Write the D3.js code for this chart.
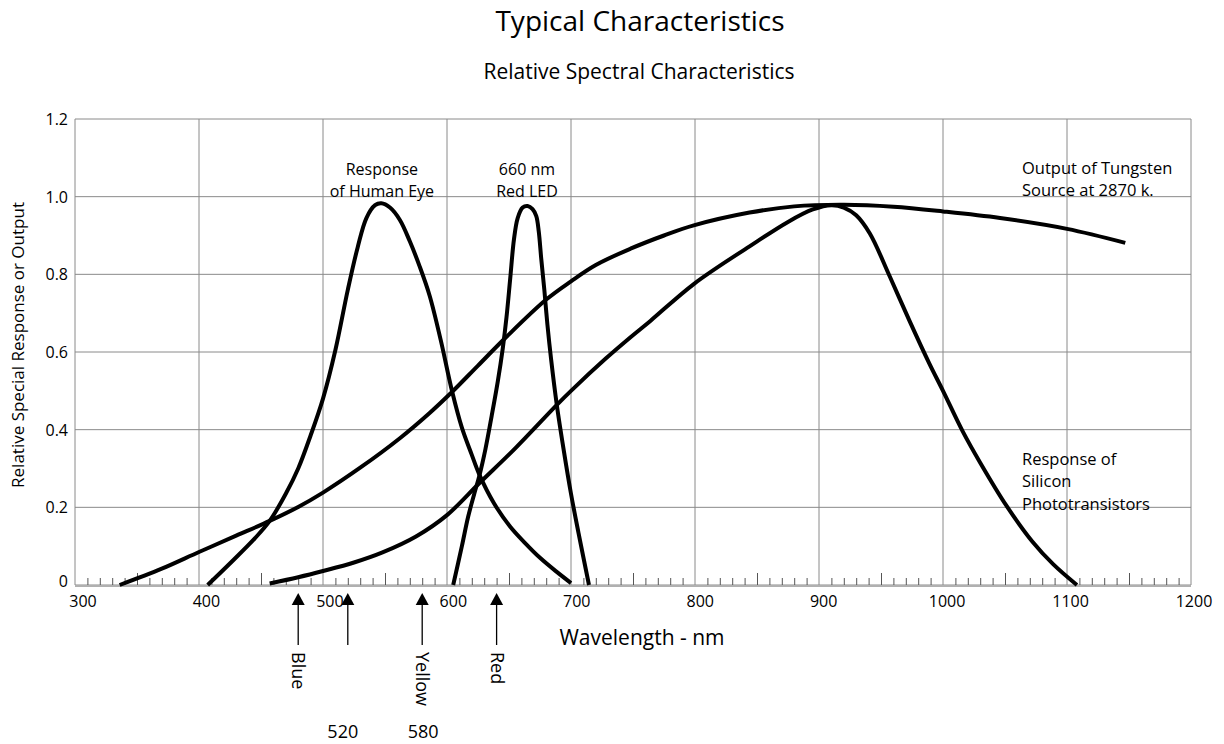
<!DOCTYPE html>
<html>
<head>
<meta charset="utf-8">
<script src="https://cdn.jsdelivr.net/npm/d3@7"></script>
<style>
body { margin: 0; background: #fff; }
text { font-family: "Open Sans", sans-serif; fill: #000; }
</style>
</head>
<body>
<svg id="chart" width="1224" height="744"></svg>
<script>
/* values */
var xTicks = [300, 400, 500, 600, 700, 800, 900, 1000, 1100, 1200];
var yTicks = [0, 0.2, 0.4, 0.6, 0.8, 1.0, 1.2];
var yTickLabels = ["0", "0.2", "0.4", "0.6", "0.8", "1.0", "1.2"];

// [wavelength nm, relative response]
var tungsten = [[336, 0], [370, 0.042], [400, 0.085], [430, 0.127], [457, 0.165], [480, 0.201],
  [500, 0.238], [530, 0.302], [562, 0.378], [586, 0.443], [604, 0.497], [625, 0.565],
  [647, 0.636], [680, 0.735], [700, 0.782], [720, 0.824], [748, 0.866], [775, 0.9],
  [799, 0.926], [844, 0.959], [880, 0.975], [920, 0.979], [960, 0.974], [1000, 0.962],
  [1046, 0.945], [1100, 0.917], [1147, 0.881]];
var eye = [[407, 0], [428, 0.065], [445, 0.12], [457, 0.165], [470, 0.235], [480, 0.3],
  [490, 0.385], [500, 0.48], [510, 0.605], [520, 0.76], [528, 0.87], [535, 0.945],
  [542, 0.978], [547, 0.983], [554, 0.972], [562, 0.94], [570, 0.885], [578, 0.82],
  [586, 0.745], [595, 0.63], [604, 0.5], [612, 0.405], [620, 0.335], [626, 0.285],
  [638, 0.21], [651, 0.15], [663, 0.108], [675, 0.07], [688, 0.035], [700, 0.005]];
var redLed = [[605, 0], [612, 0.1], [617, 0.175], [622, 0.235], [626, 0.28], [631, 0.35],
  [636, 0.435], [641, 0.525], [645, 0.61], [648, 0.69], [651, 0.79], [654, 0.89],
  [657, 0.945], [661, 0.972], [665, 0.976], [669, 0.968], [672, 0.95], [674, 0.91],
  [676, 0.84], [678.5, 0.76], [681, 0.67], [684, 0.58], [688.5, 0.465], [694, 0.35],
  [700, 0.235], [706, 0.135], [714.5, 0]];
var silicon = [[457, 0.004], [480, 0.02], [500, 0.036], [525, 0.058], [548, 0.084],
  [575, 0.125], [600, 0.18], [626, 0.262], [655, 0.352], [688, 0.462], [700, 0.5],
  [728, 0.583], [748, 0.638], [764, 0.68], [799, 0.775], [844, 0.872], [875, 0.935],
  [895, 0.967], [910, 0.978], [920, 0.972], [930, 0.952], [941, 0.905], [957, 0.795],
  [973, 0.68], [989, 0.57], [1000, 0.5], [1016, 0.395], [1030, 0.315], [1051, 0.205],
  [1072, 0.112], [1089, 0.053], [1108, 0]];

var markerNm = [480, 520, 580, 640];
var markerNames = ["Blue", "", "Yellow", "Red"];
var markerValues = [520, 580];

var svg = d3.select("#chart");
var x = d3.scaleLinear().domain([300, 1200]).range([75, 1191]);
var y = d3.scaleLinear().domain([0, 1.2]).range([585, 119]);

/* titles */
svg.append("text").attr("x", 640).attr("y", 31).attr("text-anchor", "middle")
  .style("font-size", "28px").text("Typical Characteristics");
svg.append("text").attr("x", 639).attr("y", 79).attr("text-anchor", "middle")
  .style("font-size", "21px").text("Relative Spectral Characteristics");

/* grid */
var grid = svg.append("g").attr("class", "grid");
grid.selectAll("line.v").data(xTicks).enter().append("line")
  .attr("x1", d => x(d)).attr("x2", d => x(d))
  .attr("y1", y(0)).attr("y2", y(1.2))
  .attr("stroke", "#8a8a8a").attr("stroke-width", 1);
grid.selectAll("line.h").data(yTicks).enter().append("line")
  .attr("x1", x(300)).attr("x2", x(1200))
  .attr("y1", d => y(d)).attr("y2", d => y(d))
  .attr("stroke", "#8a8a8a").attr("stroke-width", 1);
grid.append("line").attr("x1", x(300)).attr("x2", x(1200))
  .attr("y1", y(0) + 1).attr("y2", y(0) + 1)
  .attr("stroke", "#b0b0b0").attr("stroke-width", 2);

/* minor ticks every 10 nm, longer at the 50s */
var minor = d3.range(310, 1200, 10).filter(d => d % 100 !== 0);
var minorAxis = d3.axisTop(x).tickValues(minor).tickFormat("").tickSizeOuter(0)
  .tickSize(6);
var gm = svg.append("g").attr("transform", "translate(0," + y(0) + ")").call(minorAxis);
gm.select(".domain").remove();
gm.selectAll(".tick line").attr("stroke", "#555")
  .attr("y2", d => d % 50 === 0 ? -12 : -7);

/* x tick labels (slightly right of the grid lines as in the scan) */
svg.append("g").selectAll("text").data(xTicks).enter().append("text")
  .attr("x", d => x(d) + 8 - (d - 300) / 900 * 5)
  .attr("y", 607).attr("text-anchor", "middle")
  .style("font-size", "16px").text(d => d);

/* y tick labels */
svg.append("g").selectAll("text").data(yTicks).enter().append("text")
  .attr("x", 68).attr("y", (d, i) => y(d) + (i === 0 ? 2 : 6))
  .attr("text-anchor", "end").style("font-size", "16px")
  .text((d, i) => yTickLabels[i]);

/* axis titles */
svg.append("text").attr("x", 642).attr("y", 645).attr("text-anchor", "middle")
  .style("font-size", "21px").text("Wavelength - nm");
svg.append("text").attr("transform", "translate(24,345) rotate(-90)")
  .attr("text-anchor", "middle").style("font-size", "17px")
  .text("Relative Special Response or Output");

/* curves */
var line = d3.line().x(d => x(d[0])).y(d => y(d[1])).curve(d3.curveCatmullRom.alpha(0.5));
[tungsten, eye, redLed, silicon].forEach(function (s) {
  svg.append("path").attr("d", line(s)).attr("fill", "none")
    .attr("stroke", "#000").attr("stroke-width", 4);
});

/* curve labels */
function label(lines, px, py, anchor, step, size) {
  var t = svg.append("text").attr("text-anchor", anchor).style("font-size", size + "px");
  lines.forEach(function (s, i) {
    t.append("tspan").attr("x", px).attr("y", py + i * step).text(s);
  });
}
label(["Response", "of Human Eye"], x(547.5), 175, "middle", 21.8, 16);
label(["660 nm", "Red LED"], x(664.5), 175, "middle", 21.8, 16);
label(["Output of Tungsten", "Source at 2870 k."], x(1063.7), 173.5, "start", 22.5, 16.5);
label(["Response of", "Silicon", "Phototransistors"], x(1063.7), 464.5, "start", 22.5, 16.5);

/* colour markers under the axis */
var mk = svg.append("g").selectAll("g").data(markerNm).enter().append("g")
  .attr("transform", d => "translate(" + x(d) + ",0)");
mk.append("path").attr("d", "M0,593L6.5,605L-6.5,605Z").attr("fill", "#000");
mk.append("line").attr("x1", 0).attr("x2", 0).attr("y1", 605).attr("y2", 645)
  .attr("stroke", "#000").attr("stroke-width", 1.3);
mk.append("text").attr("transform", "translate(-6,652) rotate(90)")
  .style("font-size", "18px").text((d, i) => markerNames[i]);

svg.append("g").selectAll("text").data(markerValues).enter().append("text")
  .attr("x", (d, i) => x(d) + (i === 0 ? -5 : 1)).attr("y", 738)
  .attr("text-anchor", "middle").style("font-size", "18px").text(d => d);
</script>
</body>
</html>
